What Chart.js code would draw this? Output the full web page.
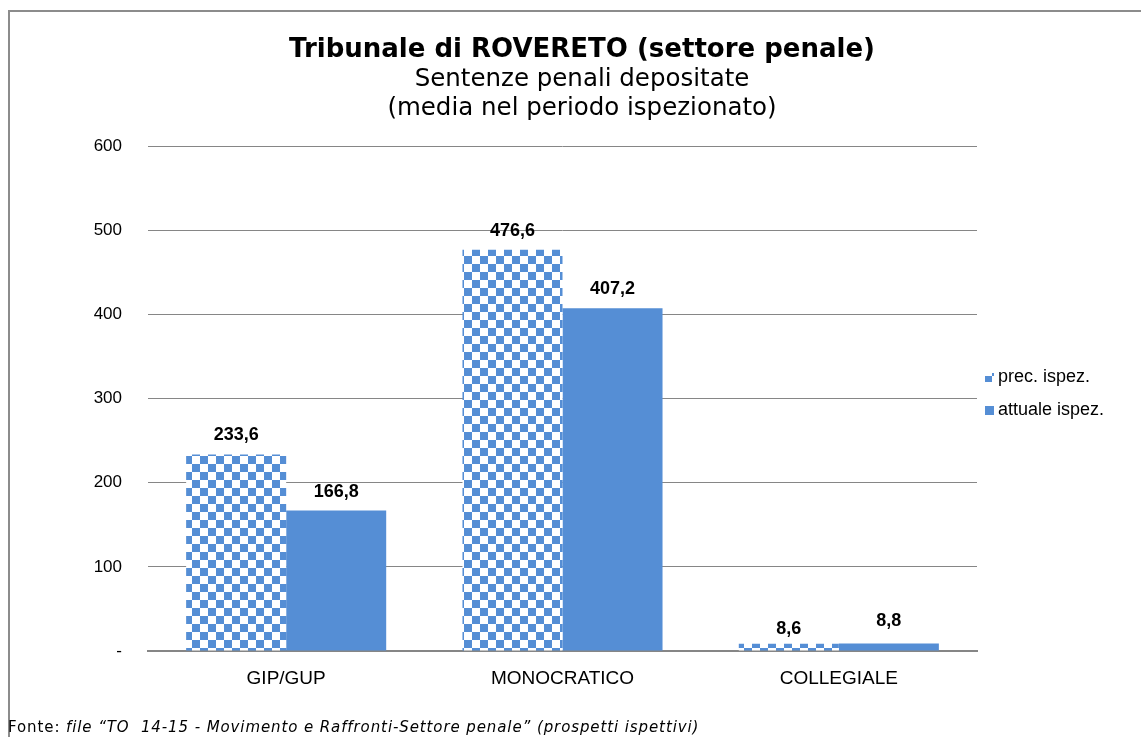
<!DOCTYPE html>
<html>
<head>
<meta charset="utf-8">
<script src="https://cdn.jsdelivr.net/npm/chart.js@4.4.1/dist/chart.umd.min.js"></script>
<style>
    body { margin: 0; background: #fff; }
    #wrap { position: relative; width: 1141px; height: 737px; overflow: hidden; }
    #frame { position: absolute; left: 8px; top: 10px; width: 1200px; height: 800px;
             border-top: 2px solid #8c8c8c; border-left: 2px solid #8c8c8c; }
    #title { position: absolute; left: 232px; width: 700px; top: 34px; text-align: center;
             font-family: "DejaVu Sans", Verdana, sans-serif; color: #000; line-height: 29px; }
    #title .main { font-weight: bold; font-size: 26px; }
    #title .sub { font-size: 24.5px; }
    #source { position: absolute; left: 8px; top: 718px; font-family: "DejaVu Sans", Verdana, sans-serif;
              font-size: 15px; letter-spacing: 0.9px; color: #000; white-space: nowrap; }
    canvas { position: absolute; left: 0; top: 0; }
</style>
</head>
<body>
<div id="wrap">
    <div id="frame"></div>
    <canvas id="chart" width="1141" height="737"></canvas>
    <div id="title">
        <div class="main">Tribunale di ROVERETO (settore penale)</div>
        <div class="sub">Sentenze penali depositate</div>
        <div class="sub">(media nel periodo ispezionato)</div>
    </div>
    <div id="source">Fonte: <i>file “TO&nbsp; 14-15 - Movimento e Raffronti-Settore penale” (prospetti ispettivi)</i></div>
</div>
<script>
const categories = ['GIP/GUP', 'MONOCRATICO', 'COLLEGIALE'];
const seriesNames = ['prec. ispez.', 'attuale ispez.'];
const precIspez = [233.6, 476.6, 8.6];
const attualeIspez = [166.8, 407.2, 8.8];
const yMax = 600;
const yStep = 100;

const blue = '#558ed5';

// checkerboard fill for the previous inspection
function checkerPattern() {
    const c = document.createElement('canvas');
    c.width = 16; c.height = 16;
    const g = c.getContext('2d');
    g.fillStyle = '#fff';
    g.fillRect(0, 0, 16, 16);
    g.fillStyle = blue;
    g.fillRect(0, 0, 8, 8);
    g.fillRect(8, 8, 8, 8);
    return g.createPattern(c, 'repeat');
}

const fmt = v => v.toFixed(1).replace('.', ',');

// the two tiny COLLEGIALE labels were moved by hand in the original
const labelNudge = [[0, 0, 4], [0, 0, -4]];

const valueLabels = {
    id: 'valueLabels',
    afterDatasetsDraw(chart) {
        const ctx = chart.ctx;
        ctx.save();
        ctx.font = 'bold 18px "Liberation Sans", Arial, sans-serif';
        ctx.fillStyle = '#000';
        ctx.textAlign = 'center';
        ctx.textBaseline = 'alphabetic';
        chart.data.datasets.forEach((ds, i) => {
            chart.getDatasetMeta(i).data.forEach((bar, j) => {
                ctx.fillText(fmt(ds.data[j]), bar.x, bar.y - 14 + labelNudge[i][j]);
            });
        });
        ctx.restore();
    }
};

const sideLegend = {
    id: 'sideLegend',
    afterDraw(chart) {
        const ctx = chart.ctx;
        const rows = [377, 410];
        ctx.save();
        ctx.font = '18px "Liberation Sans", Arial, sans-serif';
        ctx.textBaseline = 'middle';
        chart.data.datasets.forEach((ds, i) => {
            const y = rows[i];
            ctx.fillStyle = ds.backgroundColor;
            ctx.fillRect(985, y - 4, 9, 9);
            ctx.fillStyle = '#000';
            ctx.fillText(ds.label, 998, y);
        });
        ctx.restore();
    }
};

const ctx = document.getElementById('chart').getContext('2d');
new Chart(ctx, {
    type: 'bar',
    data: {
        labels: categories,
        datasets: [
            { label: seriesNames[0], data: precIspez, backgroundColor: checkerPattern() },
            { label: seriesNames[1], data: attualeIspez, backgroundColor: blue }
        ]
    },
    options: {
        responsive: false,
        animation: false,
        categoryPercentage: 0.724,
        barPercentage: 1.0,
        layout: { padding: { top: 146, right: 164, left: 0, bottom: 0 } },
        plugins: {
            legend: { display: false },
            tooltip: { enabled: false }
        },
        scales: {
            x: {
                grid: { display: false },
                border: { display: true, color: '#868686', width: 2 },
                ticks: { color: '#000', padding: 8, font: { family: '"Liberation Sans", Arial, sans-serif', size: 19 } },
                afterFit: s => { s.height = 86; }
            },
            y: {
                min: 0,
                max: yMax,
                ticks: {
                    stepSize: yStep,
                    color: '#000',
                    padding: 26,
                    font: { family: '"Liberation Sans", Arial, sans-serif', size: 17 },
                    callback: v => v === 0 ? '-' : v
                },
                grid: { color: '#868686', drawTicks: false },
                border: { display: false },
                afterFit: s => { s.width = 148; }
            }
        }
    },
    plugins: [valueLabels, sideLegend]
});
</script>
</body>
</html>
